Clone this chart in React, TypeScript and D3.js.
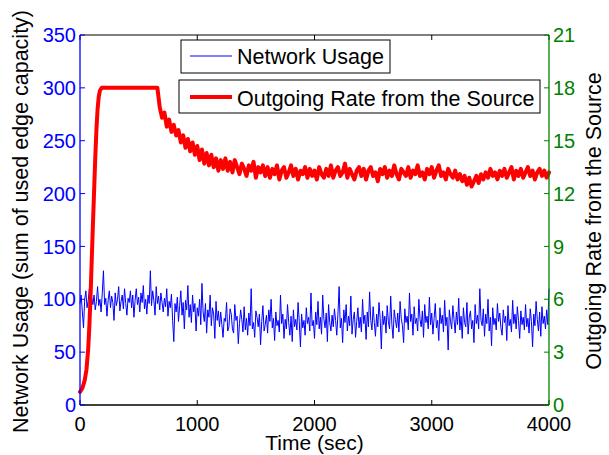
import React from "react";
import * as d3 from "d3";

// ---- data ----
const BLUE_STEP = 10; // seconds between network-usage samples
const networkUsage = [
  96, 104, 88, 73, 100, 108, 92, 99, 110, 86, 101, 95, 104, 90, 98, 112, 94, 100, 88, 106,
  127, 95, 101, 84, 99, 108, 92, 103, 97, 80, 106, 94, 100, 112, 89, 98, 104, 91, 110, 96,
  85, 101, 97, 108, 92, 104, 83, 99, 110, 95, 102, 88, 106, 97, 113, 91, 100, 86, 104, 96,
  127, 94, 108, 99, 85, 112, 96, 103, 90, 106, 97, 88, 101, 93, 110, 84, 98, 92, 105, 80,
  60, 96, 88, 102, 79, 94, 108, 85, 97, 72, 99, 90, 113, 83, 95, 78, 104, 88, 96, 70,
  92, 84, 100, 76, 115, 88, 79, 96, 68, 90, 83, 104, 75, 92, 86, 63, 98, 80, 89, 74,
  88, 76, 64, 82, 79, 97, 70, 74, 91, 86, 72, 68, 95, 80, 84, 58, 77, 90, 81, 69,
  93, 71, 82, 66, 87, 75, 110, 72, 78, 64, 89, 83, 74, 86, 57, 79, 94, 70, 76, 85,
  68, 90, 79, 100, 73, 82, 61, 88, 75, 80, 69, 104, 77, 86, 63, 81, 72, 95, 78, 66,
  84, 60, 90, 74, 81, 71, 97, 79, 55, 86, 73, 80, 66, 92, 77, 83, 70, 106, 75, 80,
  63, 88, 76, 98, 72, 83, 67, 104, 81, 73, 87, 60, 95, 78, 70, 85, 74, 91, 80, 66,
  86, 112, 73, 82, 59, 90, 78, 95, 70, 84, 75, 103, 67, 81, 88, 64, 79, 92, 73, 83,
  69, 100, 77, 85, 62, 88, 74, 107, 80, 71, 93, 78, 65, 86, 74, 97, 82, 53, 89, 76,
  84, 68, 94, 79, 72, 103, 76, 63, 90, 81, 73, 87, 69, 98, 82, 75, 59, 91, 78, 84,
  71, 106, 79, 86, 66, 93, 77, 82, 70, 100, 81, 74, 89, 64, 95, 78, 84, 72, 102, 76,
  87, 67, 82, 96, 73, 80, 61, 92, 77, 85, 69, 99, 75, 83, 52, 90, 79, 72, 94, 81,
  68, 88, 76, 101, 71, 84, 63, 92, 78, 74, 97, 67, 83, 89, 72, 80, 59, 95, 77, 85,
  72, 110, 80, 75, 91, 65, 86, 77, 100, 70, 83, 56, 92, 76, 82, 71, 96, 79, 87, 73,
  66, 90, 78, 84, 61, 94, 75, 81, 69, 99, 77, 86, 72, 93, 80, 63, 89, 76, 83, 71,
  95, 74, 82, 68, 91, 79, 55, 86, 75, 98, 81, 70, 88, 65, 93, 77, 84, 72, 90, 76,
  110,
];

const riseTimes = [0, 20, 40, 55, 70, 80, 90, 100, 110, 120, 130, 140, 150, 160, 170, 185, 660];
const riseRates = [0.75, 0.95, 1.4, 2.0, 3.2, 4.5, 6.2, 8.2, 10.2, 12.1, 14.0, 15.6, 16.8, 17.5, 17.85, 18, 18];

const DECAY_START = 680;
const DECAY_STEP = 20;
const decayRates = [
  16.9, 16.3, 16.6, 15.8, 16.2, 15.5, 15.9, 15.3, 15.6, 14.9, 15.3, 14.6, 15.1, 14.4, 14.9, 14.2, 14.7, 13.9, 14.5, 13.7, 14.3, 13.6, 14.2, 13.5, 14.0, 13.3,
  13.9, 13.4, 14.0, 13.3, 13.8, 13.2, 13.9, 13.5, 13.1, 13.7, 13.4, 13.0, 13.6, 13.3, 13.8, 12.9, 13.5, 13.2, 13.6, 13.0,
  13.5, 12.9, 13.4, 13.1, 13.6, 12.8, 13.3, 13.5, 12.9, 13.2, 13.6, 13.0, 13.4, 12.8, 13.3, 13.1, 13.5, 12.9, 13.4, 13.0,
  13.3, 12.8, 13.5, 13.1, 12.9, 13.4, 13.0, 13.6, 12.9, 13.3, 13.5, 13.0, 13.2, 13.7, 12.9, 13.4, 13.1, 12.8, 13.3, 13.5,
  13.0, 13.4, 12.8, 13.3, 13.5, 13.0, 13.2, 12.7, 13.4, 13.1, 13.5, 12.9, 13.3, 13.0, 13.6, 13.1, 12.8, 13.4, 13.2, 13.0,
  13.5, 12.9, 13.3, 13.1, 13.6, 13.0, 13.2, 12.8, 13.4, 13.1, 13.5, 12.9, 13.3, 13.6, 13.0, 13.2, 12.8, 13.4, 13.1, 12.9,
  13.3, 12.8, 13.1, 12.7, 13.0, 12.5, 12.9, 12.4, 12.7, 13.0, 12.6, 13.1, 12.8, 13.2, 12.9, 13.4, 13.0, 13.2, 12.8, 13.3,
  13.0, 13.4, 12.9, 13.2, 13.5, 12.8, 13.3, 13.0, 13.4, 12.9, 13.2, 13.5, 13.0, 13.3, 12.8, 13.2, 13.4, 13.0, 13.3, 12.9,
  13.2,
];

const xTicks = [0, 1000, 2000, 3000, 4000];
const leftTicks = [0, 50, 100, 150, 200, 250, 300, 350];
const rightTicks = [0, 3, 6, 9, 12, 15, 18, 21];

const legendLabels = ["Network Usage", "Outgoing Rate from the Source"];
const xLabel = "Time (sec)";
const leftLabel = "Network Usage (sum of used edge capacity)";
const rightLabel = "Outgoing Rate from the Source";

// ---- layout ----
const W = 609;
const H = 455;
const M = { left: 80, right: 549, top: 35, bottom: 405 };
const BLUE = "#0000ff";
const RED = "#ff0000";
const GREEN = "#008000";
const FONT = "'Liberation Sans', Arial, Helvetica, sans-serif";

export default function App() {
  const x = d3.scaleLinear().domain([0, 4000]).range([M.left, M.right]);
  const yL = d3.scaleLinear().domain([0, 350]).range([M.bottom, M.top]);
  const yR = d3.scaleLinear().domain([0, 21]).range([M.bottom, M.top]);

  const bluePts: [number, number][] = networkUsage.map((v, i) => [i * BLUE_STEP, v]);
  const redPts: [number, number][] = [
    ...riseTimes.map((t, i) => [t, riseRates[i]] as [number, number]),
    ...decayRates.map((v, i) => [DECAY_START + i * DECAY_STEP, v] as [number, number]),
  ];

  const blueLine = d3
    .line<[number, number]>()
    .x((d) => x(d[0]))
    .y((d) => yL(d[1]));
  const redLine = d3
    .line<[number, number]>()
    .x((d) => x(d[0]))
    .y((d) => yR(d[1]));

  const tickLen = 5;

  return (
    <svg
      width={W}
      height={H}
      style={{ position: "absolute", left: 0, top: 0, background: "#fff" }}
      fontFamily={FONT}
    >
      <rect x={0} y={0} width={W} height={H} fill="#fff" />
      {/* data */}
      <path d={blueLine(bluePts) || ""} fill="none" stroke={BLUE} strokeWidth={1} />
      <path
        d={redLine(redPts) || ""}
        fill="none"
        stroke={RED}
        strokeWidth={4}
        strokeLinejoin="round"
        strokeLinecap="round"
      />

      {/* top & bottom axes */}
      <line x1={M.left} x2={M.right} y1={M.top} y2={M.top} stroke="#000" strokeWidth={1} />
      <line x1={M.left} x2={M.right} y1={M.bottom} y2={M.bottom} stroke="#000" strokeWidth={1.3} />
      {xTicks.map((t) => (
        <g key={"xt" + t}>
          <line x1={x(t)} x2={x(t)} y1={M.bottom} y2={M.bottom - tickLen} stroke="#000" />
          <line x1={x(t)} x2={x(t)} y1={M.top} y2={M.top + tickLen} stroke="#000" />
          <text x={x(t)} y={431} fontSize={20} textAnchor="middle" fill="#000">
            {t}
          </text>
        </g>
      ))}
      <text x={(M.left + M.right) / 2} y={450} fontSize={21} textAnchor="middle" fill="#000">
        {xLabel}
      </text>

      {/* left axis */}
      <line x1={M.left} x2={M.left} y1={M.top} y2={M.bottom} stroke={BLUE} strokeWidth={1.3} />
      {leftTicks.map((t) => (
        <g key={"yl" + t}>
          <line x1={M.left} x2={M.left + tickLen} y1={yL(t)} y2={yL(t)} stroke={BLUE} />
          <text x={76} y={yL(t) + 7.2} fontSize={20} textAnchor="end" fill={BLUE}>
            {t}
          </text>
        </g>
      ))}
      <text
        transform={`translate(28,221.5) rotate(-90)`}
        fontSize={21.5}
        textAnchor="middle"
        fill="#000"
      >
        {leftLabel}
      </text>

      {/* right axis */}
      <line x1={M.right} x2={M.right} y1={M.top} y2={M.bottom} stroke={GREEN} strokeWidth={1.3} />
      {rightTicks.map((t) => (
        <g key={"yr" + t}>
          <line x1={M.right} x2={M.right - tickLen} y1={yR(t)} y2={yR(t)} stroke={GREEN} />
          <text x={553} y={yR(t) + 7.2} fontSize={20} textAnchor="start" fill={GREEN}>
            {t}
          </text>
        </g>
      ))}
      <text
        transform={`translate(601,221) rotate(-90)`}
        fontSize={21.5}
        textAnchor="middle"
        fill="#000"
      >
        {rightLabel}
      </text>

      {/* legends */}
      <rect x={181} y={40} width={209} height={33} fill="#fff" stroke="#000" strokeWidth={1} />
      <line x1={190} x2={232} y1={56} y2={56} stroke={BLUE} strokeWidth={1} />
      <text x={237} y={64} fontSize={21.5} fill="#000">
        {legendLabels[0]}
      </text>
      <rect x={179} y={80} width={361} height={33} fill="#fff" stroke="#000" strokeWidth={1} />
      <line x1={190} x2={232} y1={97} y2={97} stroke={RED} strokeWidth={4} />
      <text x={237} y={106} fontSize={21.5} fill="#000">
        {legendLabels[1]}
      </text>
    </svg>
  );
}
